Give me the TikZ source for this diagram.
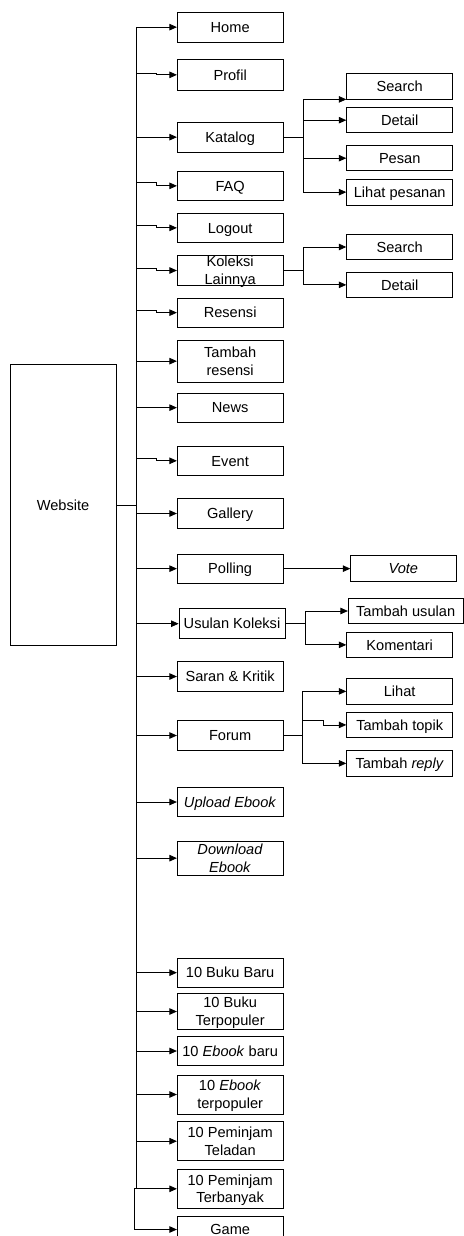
\documentclass[tikz,border=0pt]{standalone}
\usepackage{fontspec}
\setmainfont{Liberation Sans}
\usetikzlibrary{arrows.meta,calc}
\tikzset{
  bx/.style={draw=black, line width=0.8pt, inner sep=0pt, fill=white},
  tx/.style={inner sep=0pt, font=\fontsize{14.6}{17.7}\selectfont, text height=10.45pt, text depth=0pt},
  txx/.style={tx, text depth=17.7pt},
  ln/.style={draw=black, line width=0.8pt},
  arr/.style={ln, -{Triangle[length=7.5pt,width=6.5pt]}},
}
\newcommand{\mybox}[7]{%
  \pgfmathsetmacro\bxw{#4-#2}\pgfmathsetmacro\bxh{#5-#3}%
  \pgfmathsetmacro\bxcx{(#2+#4)/2}\pgfmathsetmacro\bxcy{(#3+#5)/2}%
  \node[bx, minimum width=\bxw pt, minimum height=\bxh pt] (#1) at (\bxcx,\bxcy) {};
  \node[#6] (#1t) at (#1.center) {#7};}
\newcommand{\mainbx}[5]{\mybox{#1}{177.3}{#2}{283}{#3}{#4}{#5}}
\newcommand{\subbx}[5]{\mybox{#1}{346.7}{#2}{452.7}{#3}{#4}{#5}}
\newcommand{\twol}[2]{\vtop{\baselineskip=17.7pt\hbox to 0pt{\hss#1\hss}\hbox to 0pt{\hss#2\hss}}}
\begin{document}
\begin{tikzpicture}[x=1pt,y=-1pt]
\useasboundingbox (0,0) rectangle (463,1236);
% root
\mybox{web}{10}{364.3}{116}{645.7}{tx}{Website}
% main column
\mainbx{hom}{12.3}{42}{tx}{Home}
\mainbx{pro}{59}{90.7}{tx}{Profil}
\mainbx{kat}{122.3}{152}{tx}{Katalog}
\mainbx{faq}{171}{200.7}{tx}{FAQ}
\mainbx{lgo}{213}{242.7}{tx}{Logout}
\mainbx{kol}{255.7}{285.3}{txx}{\twol{Koleksi}{Lainnya}}
\mainbx{res}{298}{327.3}{tx}{Resensi}
\mainbx{tre}{340}{382.3}{txx}{\twol{Tambah}{resensi}}
\mainbx{nws}{393}{422.3}{tx}{News}
\mainbx{evt}{446.3}{475.3}{tx}{Event}
\mainbx{gal}{498.7}{528.3}{tx}{Gallery}
\mainbx{pol}{554}{583.3}{tx}{Polling}
\mybox{usu}{179}{608.7}{285}{638.7}{tx}{Usulan Koleksi}
\mainbx{sar}{661.7}{691.3}{tx}{Saran \& Kritik}
\mainbx{frm}{720.7}{750.3}{tx}{Forum}
\mainbx{upl}{787.3}{816.7}{tx}{\textit{Upload Ebook}}
\mainbx{dwn}{841.3}{875}{txx}{\twol{\textit{Download}}{\textit{Ebook}}}
\mainbx{bb}{958}{987.3}{tx}{10 Buku Baru}
\mainbx{bt}{993.3}{1029.7}{txx}{\twol{10 Buku}{Terpopuler}}
\mainbx{eb}{1036.3}{1065.7}{tx}{10 \textit{Ebook} baru}
\mainbx{et}{1075}{1114}{txx}{\twol{10 \textit{Ebook}}{terpopuler}}
\mainbx{pt}{1121.7}{1160.7}{txx}{\twol{10 Peminjam}{Teladan}}
\mainbx{ptb}{1169.3}{1208.3}{txx}{\twol{10 Peminjam}{Terbanyak}}
\mainbx{gam}{1216}{1243}{tx}{Game}
% sub boxes
\subbx{ks}{73.7}{99}{tx}{Search}
\subbx{kd}{107.7}{132.7}{tx}{Detail}
\subbx{kp}{145.7}{170.7}{tx}{Pesan}
\subbx{kl}{179.3}{205}{tx}{Lihat pesanan}
\subbx{cs}{234.3}{259.7}{tx}{Search}
\subbx{cd}{272}{297.7}{tx}{Detail}
\mybox{vot}{350.7}{555}{456}{581.7}{tx}{\textit{Vote}}
\mybox{tu}{348.3}{598.7}{463}{623.3}{tx}{Tambah usulan}
\subbx{kom}{632}{657.7}{tx}{Komentari}
\subbx{lih}{678.7}{704}{tx}{Lihat}
\subbx{ttp}{712.5}{737.3}{tx}{Tambah topik}
\subbx{trp}{750.7}{776}{tx}{Tambah \textit{reply}}
% trunk
\coordinate (trk) at (136,0);
\coordinate (trk2) at (134.3,0);
\draw[ln] (web.east) -- (trk |- web.east);
\draw[ln] (trk |- hom.west) -- (trk |- ptb.west);
\draw[ln] (trk2 |- ptb.west) -- (trk2 |- gam.west);
% straight connectors
\foreach \n in {hom,kat,tre,nws,gal,pol,usu,sar,frm,upl,dwn,bb,bt,eb,et,pt}
  \draw[arr] (trk |- \n.west) -- (\n.west);
\foreach \n in {ptb,gam}
  \draw[arr] (trk2 |- \n.west) -- (\n.west);
% jogged connectors
\draw[arr] ($(trk |- pro.west)+(0,-1.85)$) -- ++(20.7,0) |- (pro.west);
\draw[arr] ($(trk |- faq.west)+(0,-3)$) -- ++(20.7,0) |- (faq.west);
\draw[arr] ($(trk |- lgo.west)+(0,-2)$) -- ++(20.7,0) |- (lgo.west);
\draw[arr] ($(trk |- kol.west)+(0,-2.3)$) -- ++(20.7,0) |- (kol.west);
\draw[arr] ($(trk |- res.west)+(0,-2.7)$) -- ++(20.7,0) |- (res.west);
\draw[arr] ($(trk |- evt.west)+(0,-2.5)$) -- ++(20.7,0) |- (evt.west);
% katalog branch
\coordinate (kbx) at (303.3,0);
\draw[ln] (kat.east) -- (kat.east -| kbx);
\draw[ln] (kbx |- ks.south west) -- (kbx |- kl.west);
\draw[arr] (kbx |- ks.south west) -- (ks.south west);
\foreach \n in {kd,kp,kl} \draw[arr] (kbx |- \n.west) -- (\n.west);
% koleksi branch
\draw[ln] (kol.east) -- (kol.east -| kbx);
\draw[ln] (kbx |- cs.west) -- (kbx |- cd.west);
\foreach \n in {cs,cd} \draw[arr] (kbx |- \n.west) -- (\n.west);
% polling
\draw[arr] (pol.east) -- (pol.east -| vot.west);
% usulan branch
\coordinate (ubx) at (305,0);
\draw[ln] (usu.east) -- (usu.east -| ubx);
\draw[ln] (ubx |- tu.west) -- (ubx |- kom.west);
\foreach \n in {tu,kom} \draw[arr] (ubx |- \n.west) -- (\n.west);
% forum branch
\coordinate (fbx) at (302.3,0);
\draw[ln] (frm.east) -- (frm.east -| fbx);
\draw[ln] (fbx |- lih.west) -- (fbx |- trp.west);
\foreach \n in {lih,trp} \draw[arr] (fbx |- \n.west) -- (\n.west);
\draw[arr] ($(fbx |- ttp.west)+(0,-4.9)$) -- ++(21,0) |- (ttp.west);
\end{tikzpicture}
\end{document}
